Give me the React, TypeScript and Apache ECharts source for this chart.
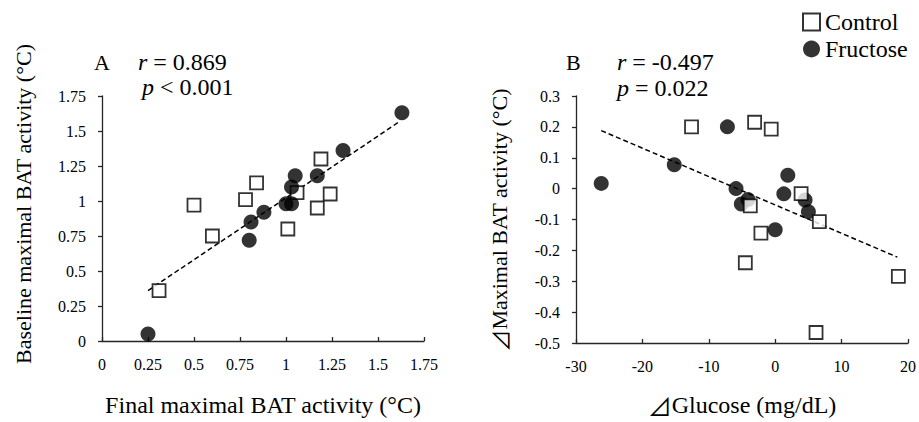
import React, { useEffect, useRef } from "react";
import * as echarts from "echarts";

const FONT = "Liberation Serif, Times New Roman, Times, serif";
const CJK = "Noto Sans CJK JP, Noto Sans CJK SC, sans-serif";

// Panel A: Final maximal BAT activity (x) vs Baseline maximal BAT activity (y)
const aControl: [number, number][] = [
  [0.31, 0.36], [0.50, 0.97], [0.60, 0.75], [0.78, 1.01], [0.84, 1.13],
  [1.01, 0.80], [1.06, 1.06], [1.19, 1.30], [1.17, 0.95], [1.24, 1.05],
];
const aFructose: [number, number][] = [
  [0.25, 0.05], [1.63, 1.63], [1.31, 1.36], [1.17, 1.18], [1.05, 1.18],
  [1.03, 1.10], [1.00, 0.98], [1.03, 0.98], [0.88, 0.92], [0.81, 0.85], [0.80, 0.72],
];
const aTrend: [number, number][] = [[0.25, 0.36], [1.62, 1.57]];

// Panel B: ⊿Glucose (x) vs ⊿Maximal BAT activity (y)
const bControl: [number, number][] = [
  [-12.6, 0.20], [-3.1, 0.215], [-0.6, 0.193], [-3.75, -0.056], [-2.15, -0.144],
  [-4.5, -0.24], [3.9, -0.016], [6.65, -0.107], [18.55, -0.284], [6.15, -0.466],
];
const bFructose: [number, number][] = [
  [-26.2, 0.017], [-15.2, 0.077], [-7.2, 0.20], [-5.9, 0.0], [-5.1, -0.05],
  [-4.1, -0.035], [0.0, -0.133], [1.3, -0.017], [1.9, 0.043], [4.5, -0.037], [5.0, -0.075],
];
const bTrend: [number, number][] = [[-26.2, 0.188], [18.4, -0.222]];

const aTicks = { min: 0, max: 1.75, interval: 0.25 };
const bXTicks = { min: -30, max: 20, interval: 10 };
const bYTicks = { min: -0.5, max: 0.3, interval: 0.1 };

const legendNames = ["Control", "Fructose"];

const AXIS_COLOR = "#262626";

function axisBase(isX: boolean) {
  return {
    type: "value",
    axisLine: { show: true, onZero: false, lineStyle: { color: AXIS_COLOR, width: 1.3 } },
    axisTick: { show: true, inside: isX, length: 4, lineStyle: { color: AXIS_COLOR, width: 1.3 } },
    splitLine: { show: false },
    axisLabel: { fontFamily: FONT, fontSize: 16, color: "#000", margin: isX ? 15 : 16 },
  };
}

const controlStyle = { color: "#fff", borderColor: "#000", borderWidth: 1.8 };
const fructoseStyle = { color: "#000" };

export default function App() {
  const ref = useRef<HTMLDivElement>(null);
  useEffect(() => {
    if (!ref.current) return;
    const chart = echarts.init(ref.current, null, { renderer: "svg" });
    const fmt2 = (v: number) => String(Math.round(v * 100) / 100);
    const fmt1 = (v: number) => String(Math.round(v * 10) / 10);
    const rich = { i: { fontStyle: "italic", fontFamily: FONT, fontSize: 24, fill: "#000" } };
    const triRich = (size: number) => ({
      t: { fontFamily: CJK, fontSize: size, color: "#000", fill: "#000" },
      s: { fontFamily: FONT, fontSize: size, color: "#000", fill: "#000" },
    });
    const option: any = {
      animation: false,
      textStyle: { fontFamily: FONT },
      legend: {
        orient: "vertical",
        left: 802,
        top: 10,
        padding: 0,
        itemWidth: 17,
        itemHeight: 17,
        itemGap: 3,
        selectedMode: false,
        textStyle: { fontFamily: FONT, fontSize: 24, color: "#000" },
        data: [
          { name: legendNames[0], icon: "rect" },
          { name: legendNames[1], icon: "circle" },
        ],
      },
      grid: [
        { left: 102, top: 96, width: 322, height: 248 },
        { left: 576, top: 96, width: 333, height: 249 },
      ],
      xAxis: [
        {
          ...axisBase(true),
          gridIndex: 0,
          min: aTicks.min,
          max: aTicks.max,
          interval: aTicks.interval,
          axisLabel: { ...axisBase(true).axisLabel, formatter: fmt2 },
          name: "Final maximal BAT activity (°C)",
          nameLocation: "middle",
          nameGap: 52,
          nameTextStyle: { fontFamily: FONT, fontSize: 24, color: "#000" },
        },
        {
          ...axisBase(true),
          gridIndex: 1,
          min: bXTicks.min,
          max: bXTicks.max,
          interval: bXTicks.interval,
          name: "{t|⊿}{s|Glucose (mg/dL)}",
          nameLocation: "middle",
          nameGap: 50,
          nameTextStyle: { fontFamily: FONT, fontSize: 24, color: "#000", rich: triRich(24) },
        },
      ],
      yAxis: [
        {
          ...axisBase(false),
          gridIndex: 0,
          min: aTicks.min,
          max: aTicks.max,
          interval: aTicks.interval,
          axisLabel: { ...axisBase(false).axisLabel, formatter: fmt2 },
        },
        {
          ...axisBase(false),
          gridIndex: 1,
          min: bYTicks.min,
          max: bYTicks.max,
          interval: bYTicks.interval,
          axisLabel: { ...axisBase(false).axisLabel, formatter: fmt1 },
        },
      ],
      series: [
        {
          name: "Trend A",
          type: "line",
          xAxisIndex: 0,
          yAxisIndex: 0,
          data: aTrend,
          symbol: "none",
          lineStyle: { color: "#000", width: 1.5, type: [5, 3] },
          z: 1,
        },
        {
          name: "Control",
          type: "scatter",
          xAxisIndex: 0,
          yAxisIndex: 0,
          data: aControl,
          symbol: "rect",
          symbolSize: 13,
          itemStyle: controlStyle,
          z: 2,
        },
        {
          name: "Fructose",
          type: "scatter",
          xAxisIndex: 0,
          yAxisIndex: 0,
          data: aFructose,
          symbol: "circle",
          symbolSize: 15,
          itemStyle: fructoseStyle,
          z: 3,
        },
        {
          name: "Trend B",
          type: "line",
          xAxisIndex: 1,
          yAxisIndex: 1,
          data: bTrend,
          symbol: "none",
          lineStyle: { color: "#000", width: 1.5, type: [5, 3] },
          z: 1,
        },
        {
          name: "Fructose",
          type: "scatter",
          xAxisIndex: 1,
          yAxisIndex: 1,
          data: bFructose,
          symbol: "circle",
          symbolSize: 15,
          itemStyle: fructoseStyle,
          z: 2,
        },
        {
          name: "Control",
          type: "scatter",
          xAxisIndex: 1,
          yAxisIndex: 1,
          data: bControl,
          symbol: "rect",
          symbolSize: 13,
          itemStyle: controlStyle,
          z: 3,
        },
      ],
      graphic: [
        {
          type: "text",
          x: 94,
          y: 62,
          style: { text: "A", fontFamily: FONT, fontSize: 22, fill: "#000", verticalAlign: "middle" },
        },
        {
          type: "text",
          x: 138,
          y: 62,
          style: { text: "{i|r} = 0.869", fontFamily: FONT, fontSize: 24, fill: "#000", verticalAlign: "middle", rich },
        },
        {
          type: "text",
          x: 142,
          y: 87,
          style: { text: "{i|p} < 0.001", fontFamily: FONT, fontSize: 24, fill: "#000", verticalAlign: "middle", rich },
        },
        {
          type: "text",
          x: 566,
          y: 62,
          style: { text: "B", fontFamily: FONT, fontSize: 22, fill: "#000", verticalAlign: "middle" },
        },
        {
          type: "text",
          x: 617,
          y: 62,
          style: { text: "{i|r} = -0.497", fontFamily: FONT, fontSize: 24, fill: "#000", verticalAlign: "middle", rich },
        },
        {
          type: "text",
          x: 617,
          y: 88,
          style: { text: "{i|p} = 0.022", fontFamily: FONT, fontSize: 24, fill: "#000", verticalAlign: "middle", rich },
        },
        {
          type: "text",
          x: 23,
          y: 204,
          rotation: Math.PI / 2,
          style: {
            text: "Baseline maximal BAT activity (°C)",
            fontFamily: FONT,
            fontSize: 22,
            fill: "#000",
            align: "center",
            verticalAlign: "middle",
          },
        },
        {
          type: "text",
          x: 499,
          y: 220,
          rotation: Math.PI / 2,
          style: {
            text: "{t|⊿}{s|Maximal BAT activity (°C)}",
            fontFamily: FONT,
            fontSize: 22,
            fill: "#000",
            align: "center",
            verticalAlign: "middle",
            rich: triRich(22),
          },
        },
      ],
    };
    chart.setOption(option);
    return () => chart.dispose();
  }, []);
  return (
    <div
      ref={ref}
      style={{ position: "fixed", left: 0, top: 0, width: 919, height: 422, background: "#fff" }}
    />
  );
}
